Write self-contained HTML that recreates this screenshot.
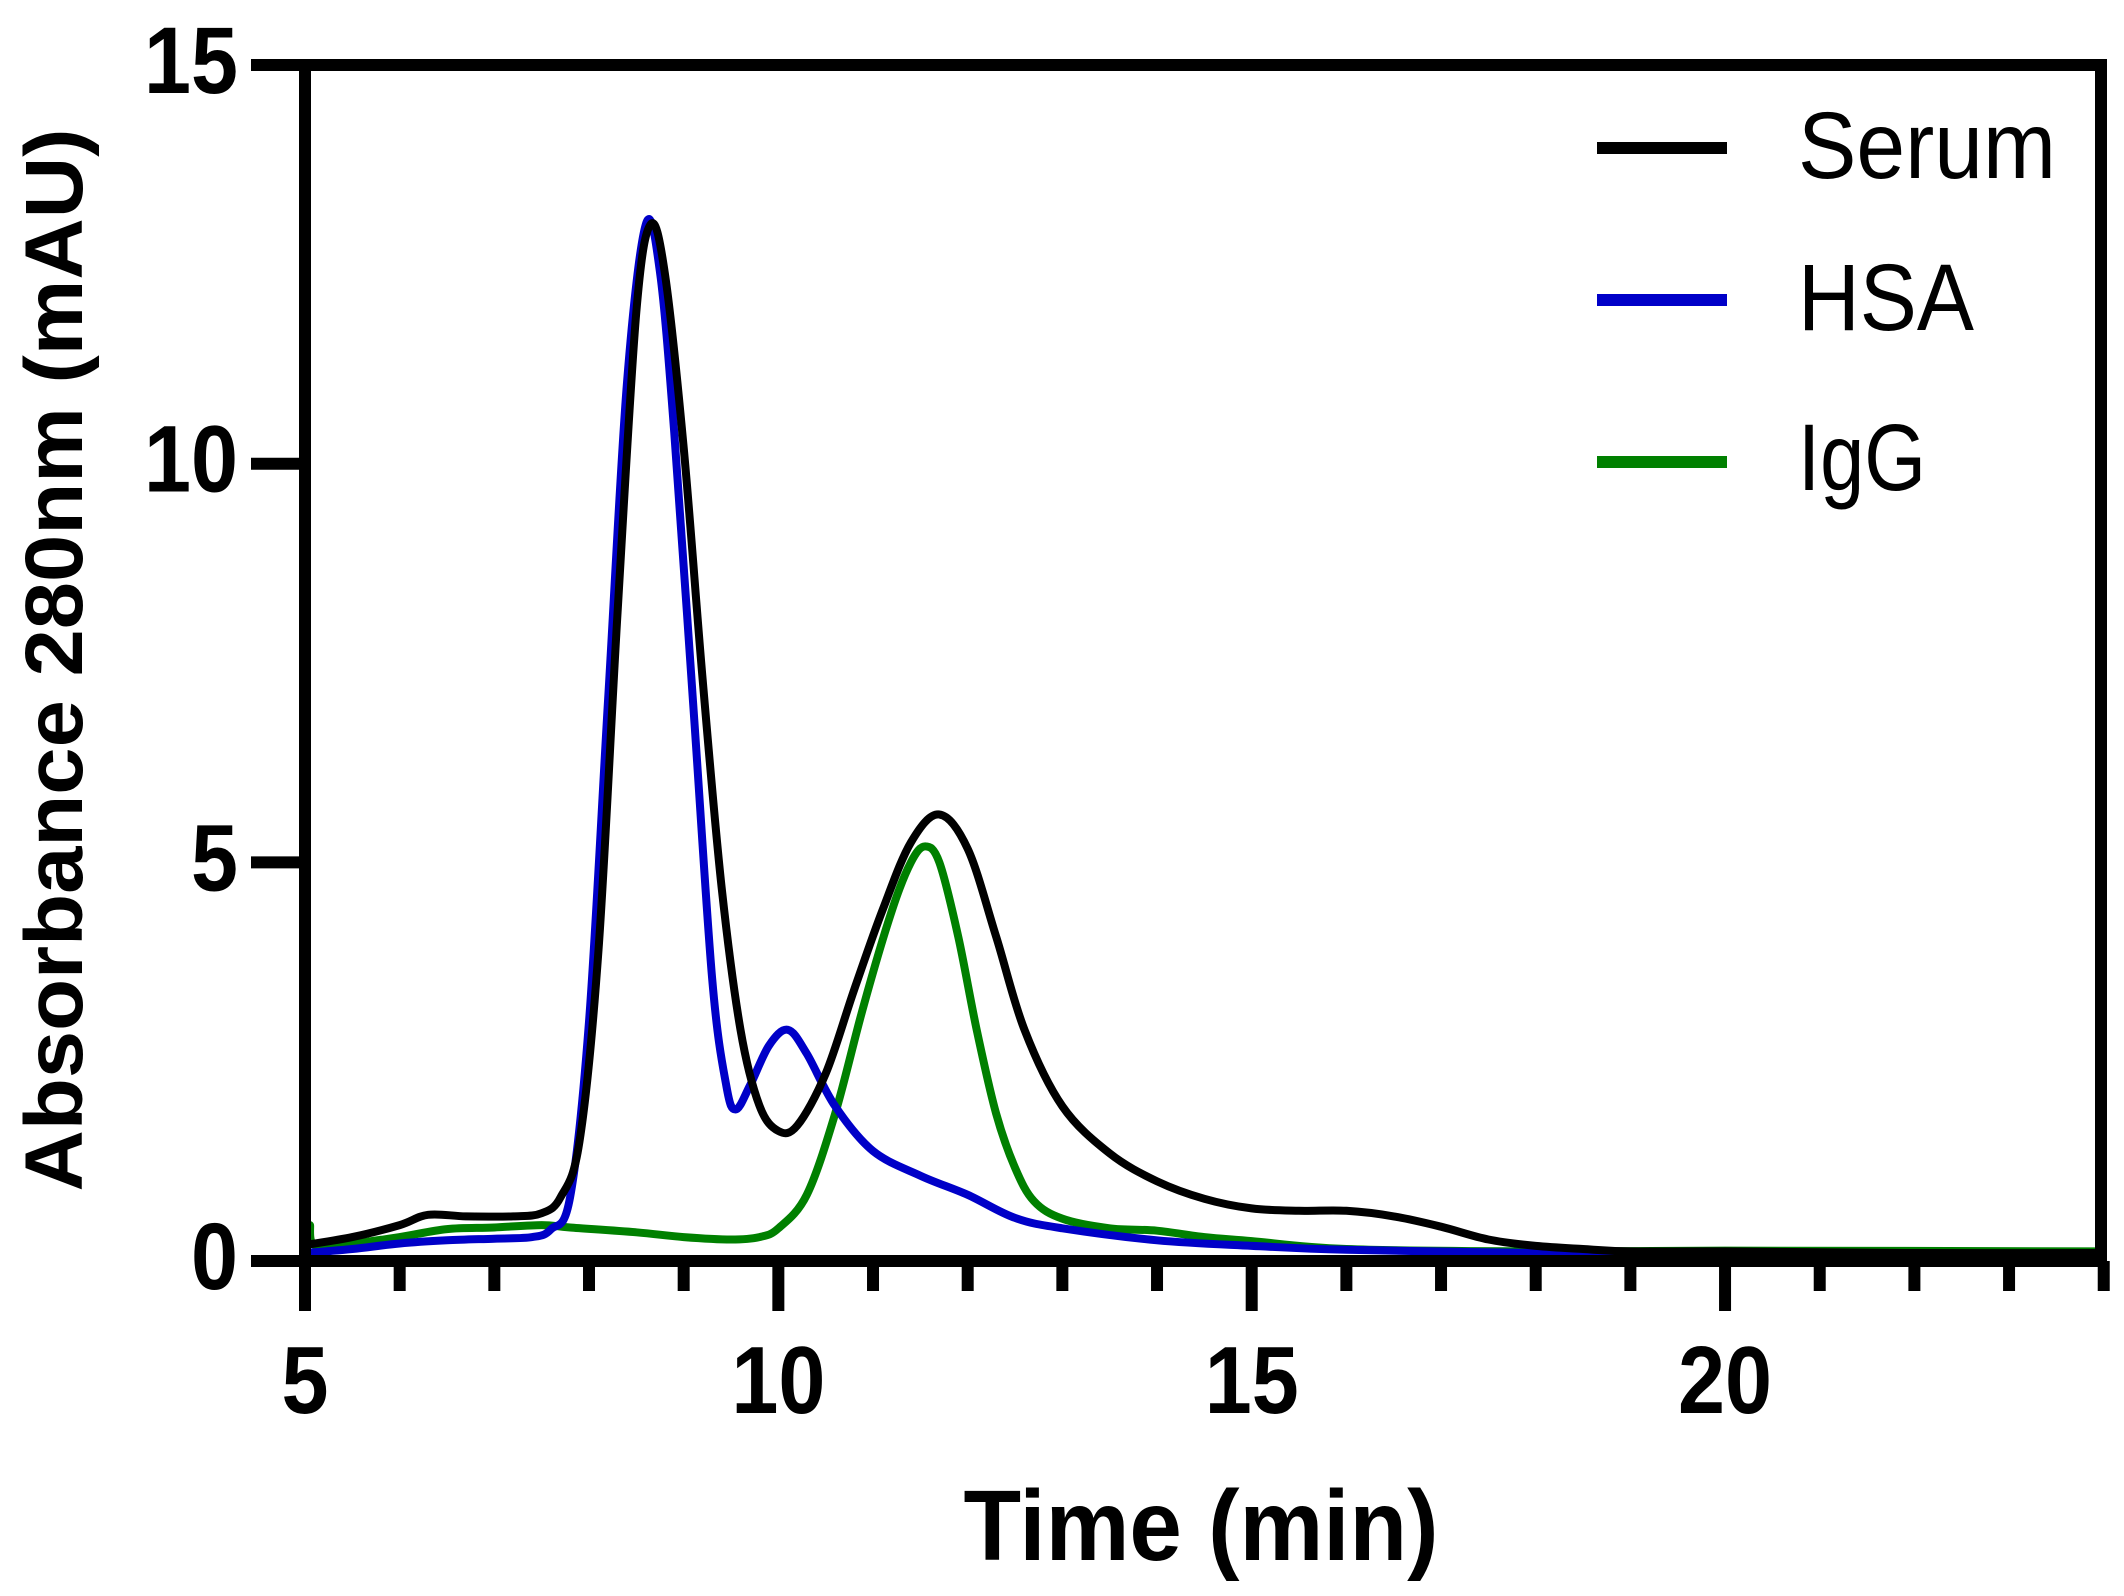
<!DOCTYPE html>
<html><head><meta charset="utf-8"><style>
html,body{margin:0;padding:0;background:#fff}
svg{display:block}
text{font-family:"Liberation Sans",Arial,sans-serif}
</style></head><body>
<svg id="chart" width="2124" height="1596" viewBox="0 0 2124 1596" xmlns="http://www.w3.org/2000/svg">
<defs><clipPath id="plotclip"><rect x="305" y="60" width="1796" height="1203"/></clipPath></defs>
<g id="series" clip-path="url(#plotclip)"></g>
<g id="axes"></g>
<text x="1201" y="1560" text-anchor="middle" font-weight="bold" font-size="100" textLength="475" lengthAdjust="spacingAndGlyphs">Time (min)</text>
<text transform="translate(82,660) rotate(-90)" text-anchor="middle" font-weight="bold" font-size="82" textLength="1063" lengthAdjust="spacingAndGlyphs">Absorbance 280nm (mAU)</text>
<g>
  <line x1="1597" y1="148" x2="1727" y2="148" stroke="#000" stroke-width="12"/>
  <text x="1798" y="178" font-size="95" textLength="258" lengthAdjust="spacingAndGlyphs">Serum</text>
  <line x1="1597" y1="300" x2="1727" y2="300" stroke="#0000c8" stroke-width="12"/>
  <text x="1798" y="330" font-size="95" textLength="176" lengthAdjust="spacingAndGlyphs">HSA</text>
  <line x1="1597" y1="462" x2="1727" y2="462" stroke="#008000" stroke-width="12"/>
  <text x="1798" y="490" font-size="95" textLength="128" lengthAdjust="spacingAndGlyphs">IgG</text>
</g>
</svg>
<script>
const serumT = [5,5.5,6,6.3,6.7,7.2,7.5,7.7,7.9,8.1,8.3,8.5,8.65,8.8,9.0,9.2,9.4,9.6,9.8,10.0,10.2,10.5,10.8,11.1,11.4,11.7,12.0,12.3,12.6,13.0,13.5,14.0,14.5,15.0,15.5,16.0,16.5,17.0,17.5,18.0,18.5,19,20,22,24];
const serumV = [0.2,0.3,0.45,0.58,0.56,0.56,0.6,0.8,1.5,3.9,8.1,11.9,13.0,12.4,10.2,7.3,4.7,2.9,1.95,1.63,1.7,2.35,3.4,4.4,5.25,5.6,5.17,4.07,2.9,1.94,1.35,1.0,0.78,0.66,0.63,0.63,0.56,0.43,0.27,0.19,0.15,0.12,0.12,0.1,0.1];
const hsaT = [5,5.5,6,6.5,7,7.4,7.6,7.8,8.0,8.2,8.4,8.6,8.75,8.9,9.1,9.3,9.45,9.55,9.7,9.9,10.1,10.3,10.6,11.0,11.5,12.0,12.5,13.0,14,15,16,18,20,24];
const hsaV = [0.1,0.15,0.22,0.26,0.28,0.3,0.4,0.8,3.0,7.0,11.0,13.0,12.4,10.4,7.0,3.55,2.2,1.9,2.2,2.7,2.9,2.6,1.94,1.38,1.07,0.83,0.54,0.41,0.26,0.19,0.14,0.1,0.07,0.05];
const iggT = [5,5.05,5.1,5.5,6,6.5,7,7.5,7.8,8.5,9,9.5,9.8,10.0,10.3,10.6,10.9,11.2,11.4,11.55,11.7,11.9,12.1,12.3,12.5,12.7,13.0,13.5,14,14.5,15,16,18,20,24];
const iggV = [0.1,0.45,0.2,0.22,0.3,0.4,0.42,0.45,0.42,0.36,0.3,0.27,0.3,0.41,0.83,1.85,3.2,4.4,5.0,5.2,5.0,4.07,2.87,1.85,1.17,0.75,0.53,0.41,0.38,0.3,0.25,0.15,0.12,0.13,0.12];
const xTickLabels = ["5","10","15","20"];
const yTickLabels = ["0","5","10","15"];

const NS = "http://www.w3.org/2000/svg";
const X0 = 305, XS = 94.67, Y0 = 1261, YS = 79.73;
function sx(t){ return X0 + (t - 5) * XS; }
function sy(v){ return Y0 - v * YS; }

function smoothPath(ts, vs){
  const p = ts.map((t,i)=>[sx(t), sy(vs[i])]);
  let d = "M" + p[0][0].toFixed(1) + "," + p[0][1].toFixed(1);
  for (let i = 0; i < p.length - 1; i++){
    const a = p[Math.max(0,i-1)], b = p[i], c = p[i+1], e = p[Math.min(p.length-1,i+2)];
    const c1x = b[0] + (c[0]-a[0])/6, c1y = b[1] + (c[1]-a[1])/6;
    const c2x = c[0] - (e[0]-b[0])/6, c2y = c[1] - (e[1]-b[1])/6;
    d += "C" + c1x.toFixed(1)+","+c1y.toFixed(1)+" "+c2x.toFixed(1)+","+c2y.toFixed(1)+" "+c[0].toFixed(1)+","+c[1].toFixed(1);
  }
  return d;
}
const sg = document.getElementById("series");
function addSeries(ts, vs, color, name){
  const el = document.createElementNS(NS, "path");
  el.setAttribute("d", smoothPath(ts, vs));
  el.setAttribute("fill", "none");
  el.setAttribute("stroke", color);
  el.setAttribute("stroke-width", "8");
  el.setAttribute("stroke-linejoin", "round");
  
  
  sg.appendChild(el);
}
addSeries(iggT, iggV, "#008000", "igg-line");
addSeries(hsaT, hsaV, "#0000c8", "hsa-line");
addSeries(serumT, serumV, "#000000", "serum-line");

const ag = document.getElementById("axes");
function line(x1,y1,x2,y2,w,name){
  const l = document.createElementNS(NS,"line");
  l.setAttribute("x1",x1); l.setAttribute("y1",y1); l.setAttribute("x2",x2); l.setAttribute("y2",y2);
  l.setAttribute("stroke","#000"); l.setAttribute("stroke-width",w);
  
  
  ag.appendChild(l);
}
line(305,59,305,1267,12,"y-axis-line");
line(299,1261,2107,1261,12,"x-axis-line");
line(299,65,2107,65,12,"frame-top");
line(2101,59,2101,1267,12,"frame-right");
for (let t = 5; t <= 24; t++){
  const major = (t % 5 === 0);
  line(sx(t),1261,sx(t),major?1311:1291,12,"x-tick");
}
xTickLabels.forEach(s=>{
  const v = parseFloat(s);
  const tx = document.createElementNS(NS,"text");
  tx.setAttribute("x", sx(v)); tx.setAttribute("y", 1413);
  tx.setAttribute("text-anchor","middle"); tx.setAttribute("font-weight","bold"); tx.setAttribute("font-size","96");
  tx.setAttribute("textLength", s.length*47); tx.setAttribute("lengthAdjust","spacingAndGlyphs");
  tx.textContent = s;
  
  
  ag.appendChild(tx);
});
yTickLabels.forEach(s=>{
  const v = parseFloat(s);
  line(251,sy(v),305,sy(v),12,"y-tick");
  const tx = document.createElementNS(NS,"text");
  tx.setAttribute("x", 238); tx.setAttribute("y", sy(v)+28);
  tx.setAttribute("text-anchor","end"); tx.setAttribute("font-weight","bold"); tx.setAttribute("font-size","95");
  tx.setAttribute("textLength", s.length*47); tx.setAttribute("lengthAdjust","spacingAndGlyphs");
  tx.textContent = s;
  
  
  ag.appendChild(tx);
});
</script>
</body></html>
